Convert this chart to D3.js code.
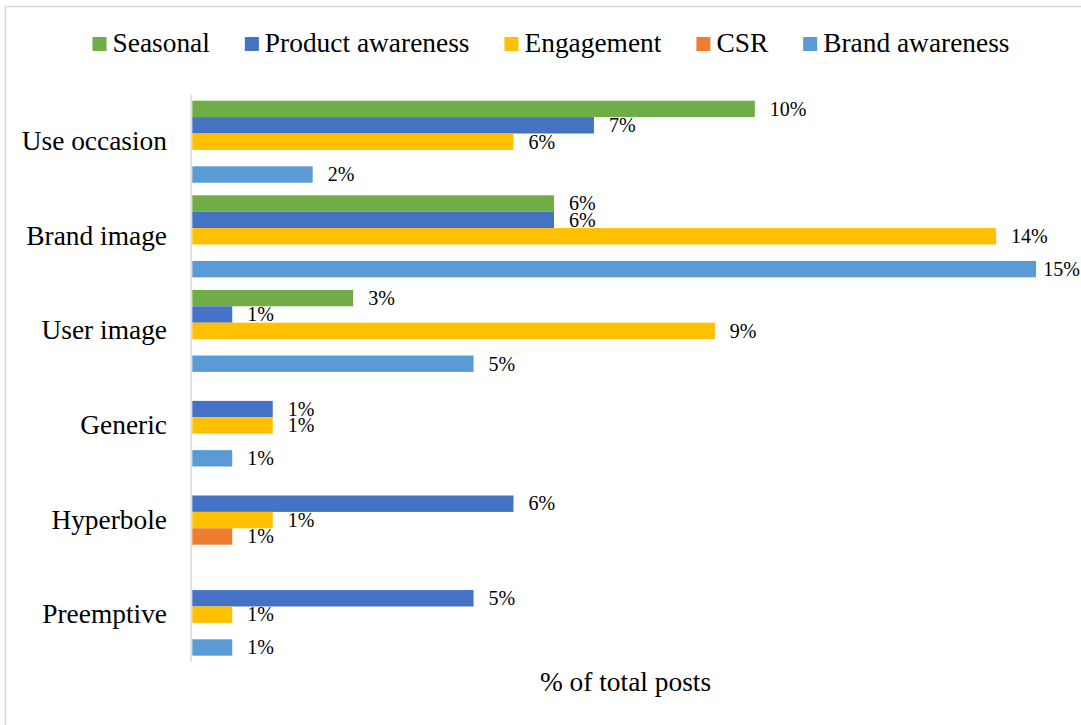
<!DOCTYPE html>
<html>
<head>
<meta charset="utf-8">
<script src="https://cdn.jsdelivr.net/npm/d3@7"></script>
<style>
  html, body { margin: 0; padding: 0; background: #fff; }
  svg { display: block; font-family: "Times New Roman", "Liberation Serif", serif; }
</style>
</head>
<body>
<svg id="chart" width="1081" height="725"></svg>
<script>
// Appeal types (rows, top to bottom)
const categories = ["Use occasion", "Brand image", "User image", "Generic", "Hyperbole", "Preemptive"];

// Post objectives (bars within each row, top to bottom)
const seriesNames = ["Seasonal", "Product awareness", "Engagement", "CSR", "Brand awareness"];
const seriesColors = ["#70AD47", "#4472C4", "#FFC000", "#ED7D31", "#5B9BD5"];

// Share of total posts (%), one value per category; null = no posts
const seasonal         = [10.00, 6.43, 2.86, null, null, null];
const productAwareness = [7.14, 6.43, 0.71, 1.43, 5.71, 5.00];
const engagement       = [5.71, 14.29, 9.29, 1.43, 1.43, 0.71];
const csr              = [null, null, null, null, 0.71, null];
const brandAwareness   = [2.14, 15.00, 5.00, 0.71, null, 0.71];

const seriesValues = [seasonal, productAwareness, engagement, csr, brandAwareness];

const xAxisTitle = "% of total posts";

const W = 1081;
const bigFont = 27.4;

const svg = d3.select("#chart");

// Outer frame
svg.append("rect")
  .attr("x", 5.5).attr("y", 6.5)
  .attr("width", 1110).attr("height", 760)
  .attr("fill", "#fff")
  .attr("stroke", "#d9d9d9")
  .attr("stroke-width", 1.5);

const plotLeft = 192.3;
const x = d3.scaleLinear().domain([0, 16]).range([plotLeft, plotLeft + 900]);

const y0 = d3.scaleBand()
  .domain(categories)
  .range([94.4, 662])
  .paddingInner(0.133)
  .paddingOuter(0.0667);

const y1 = d3.scaleBand()
  .domain(seriesNames)
  .range([0, y0.bandwidth()]);

// Bars
const rows = [];
categories.forEach((c, ci) => {
  seriesNames.forEach((s, si) => {
    const v = seriesValues[si][ci];
    if (v != null) rows.push({ category: c, series: s, color: seriesColors[si], value: v });
  });
});

const g = svg.append("g");

g.selectAll("rect.bar")
  .data(rows)
  .join("rect")
  .attr("class", "bar")
  .attr("x", x(0))
  .attr("y", d => y0(d.category) + y1(d.series))
  .attr("width", d => x(d.value) - x(0))
  .attr("height", y1.bandwidth())
  .attr("fill", d => d.color);

// Value labels, nudged left when they would run past the chart edge
const fmt = v => d3.format(".0f")(v) + "%";
g.selectAll("text.value")
  .data(rows)
  .join("text")
  .attr("class", "value")
  .attr("y", d => y0(d.category) + y1(d.series) + y1.bandwidth() / 2 + 6.8)
  .attr("font-size", 20)
  .attr("fill", "#000")
  .text(d => fmt(d.value))
  .attr("x", function (d) {
    const w = this.getComputedTextLength();
    return Math.min(x(d.value) + 15, W - 1 - w);
  });

// Category axis line
svg.append("line")
  .attr("x1", 191).attr("x2", 191)
  .attr("y1", 94.4).attr("y2", 662)
  .attr("stroke", "#d9d9d9")
  .attr("stroke-width", 1.5);

// Category labels
svg.selectAll("text.cat")
  .data(categories)
  .join("text")
  .attr("class", "cat")
  .attr("x", 167)
  .attr("y", d => y0(d) + y0.bandwidth() / 2 + 8.5)
  .attr("text-anchor", "end")
  .attr("font-size", bigFont)
  .attr("fill", "#000")
  .text(d => d);

// Axis title
svg.append("text")
  .attr("x", 625.5)
  .attr("y", 690.7)
  .attr("text-anchor", "middle")
  .attr("font-size", bigFont)
  .attr("fill", "#000")
  .text(xAxisTitle);

// Legend
const legend = svg.append("g");
const items = legend.selectAll("g")
  .data(seriesNames)
  .join("g");
items.append("rect")
  .attr("width", 14).attr("height", 14)
  .attr("y", 37)
  .attr("fill", (d, i) => seriesColors[i]);
items.append("text")
  .attr("x", 20)
  .attr("y", 52.3)
  .attr("font-size", bigFont)
  .attr("fill", "#000")
  .text(d => d);

let cursor = 0;
const offsets = [];
items.each(function () {
  offsets.push(cursor);
  const w = d3.select(this).select("text").node().getComputedTextLength();
  cursor += 20 + w + 35;
});
const totalW = cursor - 35;
const legendStart = 551 - totalW / 2;
items.attr("transform", (d, i) => `translate(${legendStart + offsets[i]},0)`);
</script>
</body>
</html>
